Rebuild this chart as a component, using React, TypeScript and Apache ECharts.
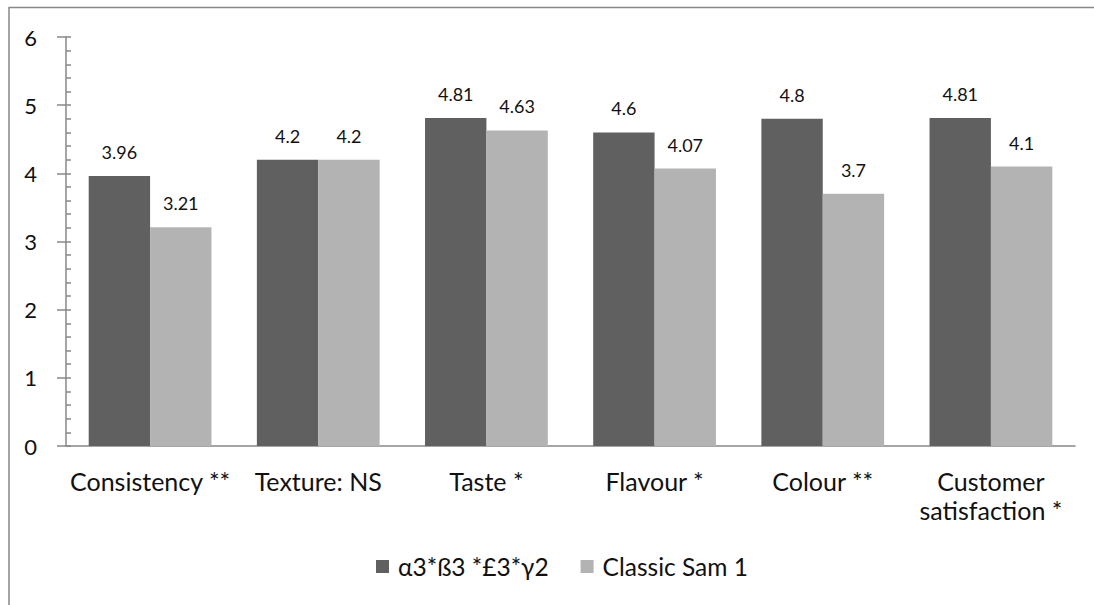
import React, { useEffect, useRef } from "react";
import * as echarts from "echarts";

const categories = ["Consistency **", "Texture: NS", "Taste *", "Flavour *", "Colour **", "Customer\nsatisfaction *"];
const seriesNames = ["α3*ß3 *£3*γ2", "Classic Sam 1"];
const seriesA = [3.96, 4.2, 4.81, 4.6, 4.8, 4.81];
const seriesB = [3.21, 4.2, 4.63, 4.07, 3.7, 4.1];
const colors = ["#606060", "#b3b3b3"];

const FONT = "Lato";

export default function App() {
  const ref = useRef<HTMLDivElement>(null);
  useEffect(() => {
    document.body.style.margin = "0";
    const chart = echarts.init(ref.current!, undefined, { renderer: "svg" });
    const label = {
      show: true,
      position: "top" as const,
      distance: 15,
      fontFamily: FONT,
      fontSize: 18,
      color: "#111",
    };
    chart.setOption({
      animation: false,
      textStyle: { fontFamily: FONT },
      grid: { left: 66, right: 19, top: 37, bottom: 159 },
      graphic: [
        {
          type: "polyline",
          shape: { points: [[9, 605], [9, 7.5], [1094, 7.5]] },
          style: { stroke: "#888", lineWidth: 1.5, fill: "none" },
          silent: true,
        },
      ],
      legend: {
        left: 376,
        top: 554,
        padding: 0,
        itemWidth: 13,
        itemHeight: 13,
        itemGap: 32,
        icon: "rect",
        textStyle: { fontFamily: FONT, fontSize: 24.5, color: "#111", padding: [0, 0, 0, 4] },
        data: seriesNames,
      },
      xAxis: {
        type: "category",
        data: categories,
        axisLine: { lineStyle: { color: "#888", width: 1.5 } },
        axisTick: { show: false },
        axisLabel: {
          interval: 0,
          fontFamily: FONT,
          fontSize: 25,
          color: "#111",
          lineHeight: 29,
          margin: 20,
        },
      },
      yAxis: [
        {
          type: "value",
          min: 0,
          max: 6,
          interval: 1,
          axisLine: { show: true, lineStyle: { color: "#888", width: 1.5 } },
          axisTick: { show: true, length: 9, lineStyle: { color: "#888", width: 1.5 } },
          splitLine: { show: false },
          axisLabel: { fontFamily: FONT, fontSize: 22, color: "#111", margin: 29 },
        },
        {
          type: "value",
          min: 0,
          max: 6,
          interval: 0.2,
          position: "left",
          axisLine: { show: false },
          axisTick: { show: true, inside: true, length: 5, lineStyle: { color: "#888", width: 1.5 } },
          splitLine: { show: false },
          axisLabel: { show: false },
        },
      ],
      series: [
        {
          name: seriesNames[0],
          type: "bar",
          data: seriesA,
          itemStyle: { color: colors[0] },
          barGap: "0%",
          barCategoryGap: "27%",
          label,
        },
        {
          name: seriesNames[1],
          type: "bar",
          data: seriesB,
          itemStyle: { color: colors[1] },
          barGap: "0%",
          barCategoryGap: "27%",
          label,
        },
      ],
    });
    return () => chart.dispose();
  }, []);
  return <div ref={ref} style={{ width: 1094, height: 605 }} />;
}
